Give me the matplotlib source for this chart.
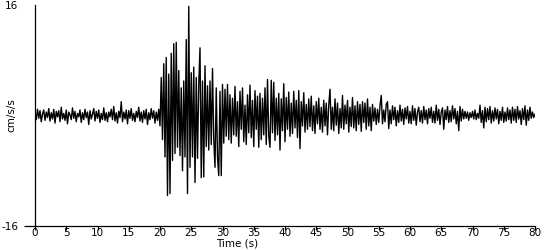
import numpy as np
import matplotlib
matplotlib.use('Agg')
import matplotlib.pyplot as plt

# acceleration, one value every 0.2 s (0 .. 80 s)
dt = 0.2
accel = [
	0.3,-0.6,0.9,-0.4,0.7,-0.9,0.2,0.8,-0.7,0.5,-0.3,1.0,-0.8,0.4,-0.5,0.9,-1.1,0.6,-0.2,0.7,
	-0.9,1.2,-0.5,0.3,-0.7,0.8,-1.2,0.5,0.1,-0.6,1.1,-0.4,0.6,-0.9,0.3,-0.2,0.8,-1.0,0.4,-0.6,
	0.9,-0.3,0.5,-1.3,0.7,-0.5,0.2,1.0,-0.8,0.6,-0.4,0.8,-1.0,0.3,-0.6,1.1,-0.7,0.4,-0.9,0.5,
	-0.2,0.9,-0.6,1.3,-0.8,0.4,-1.1,0.6,-0.3,2.0,-0.9,0.5,-0.5,0.8,-1.2,0.7,-0.4,1.0,-0.7,0.3,
	-0.9,0.6,-0.3,1.2,-0.8,0.5,-1.0,0.7,-0.5,0.9,-1.3,0.4,-0.6,1.0,-0.4,0.7,-1.1,0.5,-0.7,0.9,
	-1.5,5.5,-3.5,7.5,-6.0,8.4,-11.6,6.0,-11.3,9.0,-6.5,10.4,-5.5,10.6,-4.6,6.5,-5.8,4.0,-8.0,5.0,
	-6.0,11.0,-11.3,15.8,-7.5,6.2,-6.0,7.0,-9.7,5.5,-6.2,4.5,9.8,-9.0,5.0,-8.9,7.2,-4.5,4.3,-5.0,
	5.0,-4.2,6.8,-3.5,-7.5,4.0,-6.0,-8.7,3.5,-8.7,4.5,-4.0,3.8,-3.0,4.5,-3.5,3.0,-4.0,2.5,-2.8,
	4.2,-3.0,2.0,-4.5,3.5,-2.0,4.0,-3.8,1.5,-4.2,3.0,-2.5,4.4,-3.2,2.2,-4.5,3.6,-2.0,2.8,-4.6,
	3.2,-3.5,2.5,-2.8,4.0,-4.2,5.2,-3.0,-4.6,5.1,-2.5,4.8,-3.6,2.5,-2.8,3.2,-5.0,2.4,-2.2,4.6,
	-3.8,2.6,-2.0,3.4,-3.0,1.8,-2.6,3.5,-1.8,2.2,-3.2,3.6,-4.8,2.0,-1.5,3.3,-2.4,1.6,-2.0,2.4,
	-1.6,2.8,-2.2,1.4,-2.6,2.0,-1.2,2.5,-2.0,1.2,-2.4,2.2,-1.5,1.8,-2.8,1.5,3.8,-2.0,1.2,-2.2,
	2.4,-1.4,1.8,-2.6,1.0,-1.8,2.9,-2.0,1.5,-1.2,2.2,-2.4,1.2,-1.6,2.6,-1.8,1.4,-2.2,2.0,-1.3,
	1.6,-2.3,2.0,-1.0,1.8,-2.0,2.4,-1.5,1.2,-2.2,1.6,-0.8,1.1,-1.3,0.9,-1.0,1.4,2.9,-1.2,0.8,
	-0.9,1.6,2.0,-1.9,0.8,-1.2,1.4,-0.6,1.2,-1.5,0.7,-1.0,1.5,-0.8,0.9,-1.3,1.1,-0.5,1.3,-1.1,
	0.6,-1.2,1.4,-0.7,1.0,-1.4,0.5,1.2,-0.9,0.7,-1.1,1.3,-0.6,0.8,-1.2,1.0,-0.4,1.2,-1.0,0.6,
	-1.1,1.5,-0.7,0.9,-1.3,0.5,1.1,-2.0,0.8,-0.6,1.3,-1.0,0.7,-0.9,1.4,-0.5,1.0,-1.2,0.6,-2.2,
	1.3,-0.8,0.9,-0.5,0.6,-0.4,0.5,-0.7,0.4,-0.3,0.6,-0.5,0.8,-0.6,0.3,-0.4,1.5,-1.0,0.7,-1.8,
	1.2,-0.9,1.0,-0.6,1.3,-1.1,0.7,-0.8,1.1,-0.5,0.9,-1.2,0.6,-0.7,1.2,-1.0,0.5,-0.8,1.1,-0.6,
	0.8,-1.1,1.2,-0.7,0.9,-1.0,1.3,-0.5,0.7,-1.3,1.0,-0.6,1.4,-1.4,0.8,-0.7,1.2,-0.4,0.5,-0.3,
	0.2,
]
xticks = [0,5,10,15,20,25,30,35,40,45,50,55,60,65,70,75,80]
yticks = [-16,16]

def main():
	t = np.arange(len(accel))*dt

	fig = plt.figure(figsize=(5.5,2.5), dpi=100, facecolor='w')
	ax = fig.add_axes([35/550., 24/250., 500/550., 221/250.])
	ax.plot(t, accel, color='k', linewidth=1.0)

	ax.set_xlim(0,80)
	ax.set_ylim(-16,16)
	ax.spines['top'].set_visible(False)
	ax.spines['right'].set_visible(False)
	ax.spines['left'].set_linewidth(0.9)
	ax.spines['bottom'].set_linewidth(0.9)

	ax.set_xticks(xticks)
	ax.set_xticklabels([str(v) for v in xticks], fontsize=7.5, family='Liberation Sans Narrow')
	ax.tick_params(axis='x', direction='out', length=3, pad=-1.5, width=0.9)
	ax.set_yticks(yticks)
	ax.set_yticklabels([str(v) for v in yticks], fontsize=7.5, family='Liberation Sans Narrow')
	ax.tick_params(axis='y', direction='out', length=8, pad=4, width=0.9)
	ax.yaxis.get_major_ticks()[1].tick1line.set_visible(False)

	fig.text(237/550., 1-244/250., 'Time (s)', fontsize=7.5, family='Liberation Sans Narrow', ha='center', va='center')
	fig.text(11.5/550., 1-115/250., 'cm/s/s', fontsize=7.5, family='Liberation Sans Narrow', ha='center', va='center', rotation=90)

	fig.savefig('out.png', dpi=100)

if __name__=='__main__':
	main()
